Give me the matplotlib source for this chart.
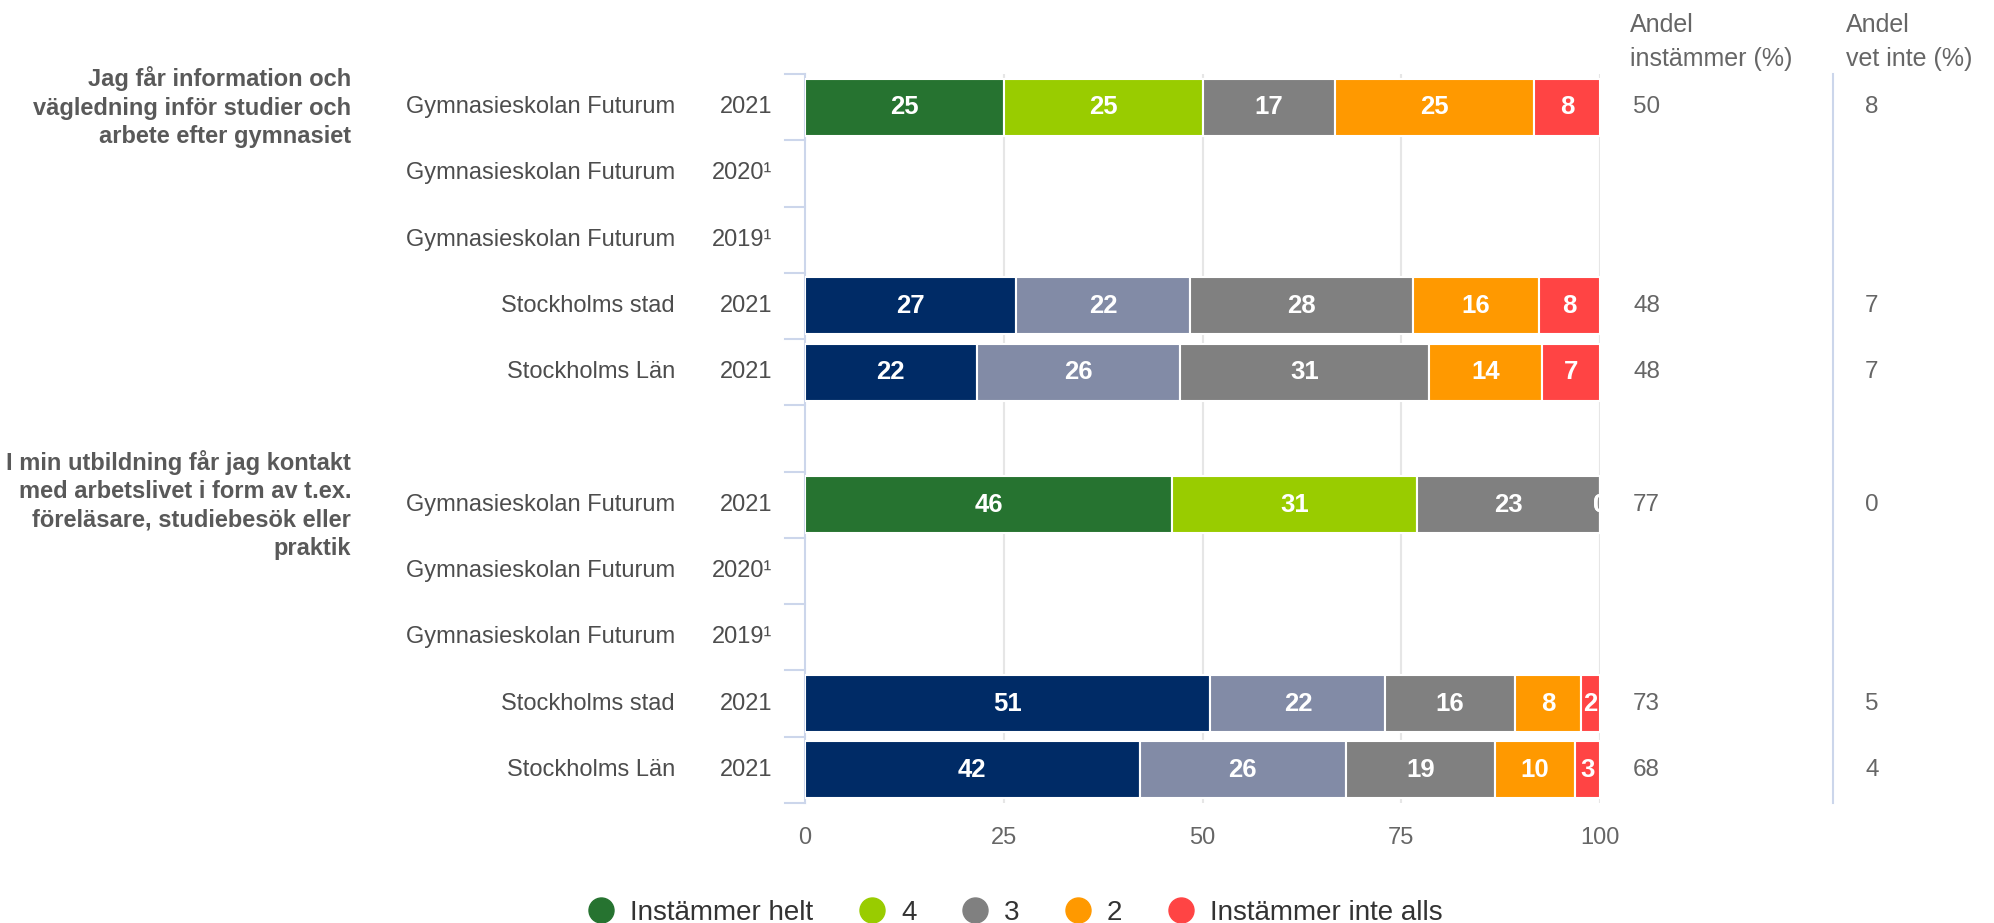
import matplotlib
matplotlib.use("Agg")
import matplotlib.pyplot as plt
import matplotlib.transforms as mtransforms
from matplotlib.lines import Line2D
import numpy as np

plt.rcParams['font.family'] = ['Liberation Sans', 'DejaVu Sans']

# ---------------- data ----------------
questions = [
    "Jag får information och\nvägledning inför studier och\narbete efter gymnasiet",
    "I min utbildning får jag kontakt\nmed arbetslivet i form av t.ex.\nföreläsare, studiebesök eller\npraktik",
]
question_rows = [0, 6]

units = ["Gymnasieskolan Futurum", "Gymnasieskolan Futurum", "Gymnasieskolan Futurum",
         "Stockholms stad", "Stockholms Län", "",
         "Gymnasieskolan Futurum", "Gymnasieskolan Futurum", "Gymnasieskolan Futurum",
         "Stockholms stad", "Stockholms Län"]
years = ["2021", "2020¹", "2019¹", "2021", "2021", "",
         "2021", "2020¹", "2019¹", "2021", "2021"]
is_school = [True, True, True, False, False, False, True, True, True, False, False]

series_names = ["Instämmer helt", "4", "3", "2", "Instämmer inte alls"]
# percentages per row (None = no data)
helt      = [25.0, None, None, 26.6, 21.6, None, 46.2, None, None, 51.0, 42.1]
s4        = [25.0, None, None, 21.8, 25.6, None, 30.8, None, None, 22.0, 25.9]
s3        = [16.7, None, None, 28.1, 31.3, None, 23.0, None, None, 16.3, 18.8]
s2        = [25.0, None, None, 15.8, 14.2, None, 0.0, None, None, 8.3, 10.0]
inte_alls = [8.3, None, None, 7.7, 7.3, None, 0.0, None, None, 2.4, 3.2]

andel_instammer = ["50", "", "", "48", "48", "", "77", "", "", "73", "68"]
andel_vet_inte  = ["8", "", "", "7", "7", "", "0", "", "", "5", "4"]

x_ticks = [0, 25, 50, 75, 100]

school_colors = ["#267330", "#99cc00", "#808080", "#ff9900", "#ff4444"]
region_colors = ["#002b66", "#828ba6", "#808080", "#ff9900", "#ff4444"]

# ---------------- figure ----------------
W, H = 1994, 923
fig = plt.figure(figsize=(W / 100, H / 100), dpi=100)
ax = fig.add_axes([805 / W, 1 - 803 / H, (1600 - 805) / W, (803 - 74) / H])

n = len(units)
ax.set_ylim(n - 0.5, -0.5)
ax.set_xlim(0, 100)

series = [helt, s4, s3, s2, inte_alls]
bar_h = 0.86
for i in range(n):
    if helt[i] is None:
        continue
    left = 0.0
    cols = school_colors if is_school[i] else region_colors
    for k, s in enumerate(series):
        v = s[i]
        ax.barh(i, v, left=left, height=bar_h, color=cols[k], edgecolor="white",
                linewidth=1.5, zorder=3)
        ax.text(left + v / 2, i, f"{v:.0f}", ha="center", va="center",
                color="white", fontsize=18.5, fontweight="bold", zorder=4,
                clip_on=True)
        left += v

# grid
for xv in x_ticks[1:]:
    ax.axvline(xv, color="#e6e6e6", lw=1.5, zorder=1)
ax.set_xticks(x_ticks)
ax.set_xticklabels([str(v) for v in x_ticks])
ax.tick_params(axis="x", length=0, labelsize=17, labelcolor="#666666", pad=17)
ax.set_yticks([])
for sp in ["top", "right", "bottom"]:
    ax.spines[sp].set_visible(False)
ax.spines["left"].set_color("#ccd6eb")
ax.spines["left"].set_linewidth(1.5)

# category boundary ticks on the left
tr_px_data = mtransforms.blended_transform_factory(fig.transFigure, ax.transData)
for b in np.arange(-0.5, n, 1.0):
    ax.add_line(Line2D([785 / W, 805 / W], [b, b], transform=tr_px_data,
                       color="#ccd6eb", lw=1.5, clip_on=False))

# row labels
for i in range(n):
    if units[i]:
        ax.text(675 / W, i, units[i], transform=tr_px_data, ha="right", va="center",
                fontsize=17, color="#4d4d4d")
        ax.text(772 / W, i, years[i], transform=tr_px_data, ha="right", va="center",
                fontsize=17, color="#4d4d4d")

# question labels
for q, r in zip(questions, question_rows):
    ax.text(351 / W, r, q, transform=tr_px_data, ha="right", va="center",
            fontsize=17, fontweight="bold", color="#595959", linespacing=1.29)

# right columns
fig.text(1630 / W, 1 - 42 / H, "Andel\ninstämmer (%)", ha="left", va="center",
         fontsize=18, color="#666666", linespacing=1.55)
fig.text(1846 / W, 1 - 42 / H, "Andel\nvet inte (%)", ha="left", va="center",
         fontsize=18, color="#666666", linespacing=1.55)
for i in range(n):
    if andel_instammer[i]:
        ax.text(1633 / W, i, andel_instammer[i], transform=tr_px_data, ha="left",
                va="center", fontsize=17.5, color="#666666")
    if andel_vet_inte[i]:
        ax.text(1865 / W, i, andel_vet_inte[i], transform=tr_px_data, ha="left",
                va="center", fontsize=17.5, color="#666666")
ax.add_line(Line2D([1833 / W, 1833 / W], [-0.5, n - 0.5], transform=tr_px_data,
                   color="#ccd6eb", lw=1.5, clip_on=False))

# legend
handles = [Line2D([], [], marker="o", linestyle="none", markersize=18,
                  markerfacecolor=c, markeredgecolor=c) for c in school_colors]
fig.legend(handles, series_names, loc="center", bbox_to_anchor=(1015 / W, 1 - 913 / H),
           ncol=5, frameon=False, fontsize=20, labelcolor="#333333",
           handletextpad=0.55, columnspacing=1.6, handlelength=1.0)

fig.savefig("out.png", dpi=100)
